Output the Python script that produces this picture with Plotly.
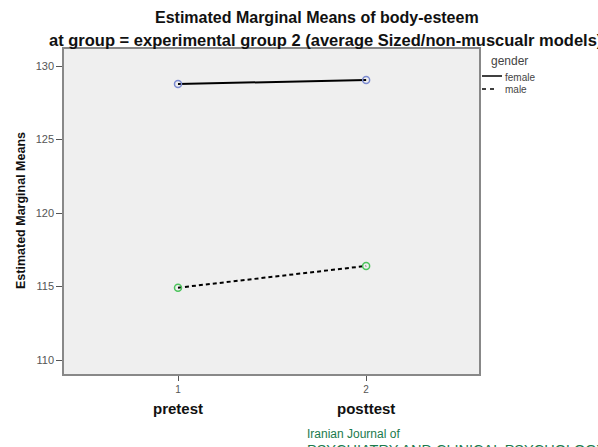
import plotly.graph_objects as go

time_points = [1, 2]
time_labels = ["pretest", "posttest"]
female_means = [128.78, 129.05]
male_means = [114.92, 116.4]
y_ticks = [110, 115, 120, 125, 130]

FONT = "Liberation Sans, Arial, sans-serif"

fig = go.Figure()
fig.add_trace(go.Scatter(
    x=time_points, y=female_means, mode="lines+markers", name="female",
    line=dict(color="black", width=2, dash="solid"),
    marker=dict(symbol="circle-open", size=7, color="#7b8ad0", line=dict(width=1.5)),
    showlegend=False))
fig.add_trace(go.Scatter(
    x=time_points, y=male_means, mode="lines+markers", name="male",
    line=dict(color="black", width=2, dash="4px,3px"),
    marker=dict(symbol="circle-open", size=7, color="#4cc45c", line=dict(width=1.5)),
    showlegend=False))

fig.update_layout(
    width=598, height=447,
    margin=dict(l=64, r=119, t=49, b=73),
    paper_bgcolor="white", plot_bgcolor="#efefef",
    font=dict(family=FONT, color="#333"),
    xaxis=dict(range=[0.394, 2.6], tickvals=time_points, ticktext=["1", "2"],
               ticks="outside", ticklen=5, tickcolor="#555",
               tickfont=dict(size=10, color="#555"),
               showgrid=False, zeroline=False, showline=True, linecolor="#888",
               linewidth=1.5, mirror=True),
    yaxis=dict(range=[109.05, 131.16], tickvals=y_ticks,
               ticks="outside", ticklen=6, tickcolor="#555",
               tickfont=dict(size=11, color="#555"),
               showgrid=False, zeroline=False, showline=True, linecolor="#888",
               linewidth=1.5, mirror=True),
    showlegend=False,
)

W, H = 598, 447
L, R, T, B = 64, 119, 49, 73
pw, ph = W - L - R, H - T - B
def px(x):
    return (x - L) / pw
def py(y):
    return (H - B - y) / ph

ann = [
    dict(text="<b>Estimated Marginal Means of body-esteem</b>", x=px(317), y=py(17),
         xref="paper", yref="paper", showarrow=False, xanchor="center", yanchor="middle",
         font=dict(size=16, color="#111", family=FONT)),
    dict(text="<b>at group = experimental group 2 (average Sized/non-muscualr models)</b>",
         x=px(47), y=py(40), xref="paper", yref="paper", showarrow=False,
         xanchor="left", yanchor="middle", font=dict(size=16.5, color="#111", family=FONT)),
    dict(text="<b>Estimated Marginal Means</b>", x=px(21), y=py(211), textangle=-90,
         xref="paper", yref="paper", showarrow=False, xanchor="center", yanchor="middle",
         font=dict(size=12.5, color="#111", family=FONT)),
    dict(text="gender", x=px(489), y=py(61), xref="paper", yref="paper", showarrow=False,
         xanchor="left", yanchor="middle", font=dict(size=12, color="#444", family=FONT)),
    dict(text="female", x=px(503), y=py(77), xref="paper", yref="paper", showarrow=False,
         xanchor="left", yanchor="middle", font=dict(size=10, color="#444", family=FONT)),
    dict(text="male", x=px(503), y=py(89), xref="paper", yref="paper", showarrow=False,
         xanchor="left", yanchor="middle", font=dict(size=10, color="#444", family=FONT)),
    dict(text="Iranian Journal of", x=px(305), y=py(434), xref="paper", yref="paper",
         showarrow=False, xanchor="left", yanchor="middle",
         font=dict(size=12, color="#1b7a4c", family=FONT)),
    dict(text="PSYCHIATRY AND CLINICAL PSYCHOLOGY", x=px(305), y=py(450), xref="paper", yref="paper",
         showarrow=False, xanchor="left", yanchor="middle",
         font=dict(size=14.5, color="#1b7a4c", family=FONT)),
]
for xv, lab in zip(time_points, time_labels):
    ann.append(dict(text=f"<b>{lab}</b>", x=xv, y=py(408), xref="x", yref="paper",
                    showarrow=False, xanchor="center", yanchor="middle",
                    font=dict(size=15, color="#111", family=FONT)))

shapes = [
    dict(type="line", xref="paper", yref="paper", x0=px(482), x1=px(502), y0=py(76), y1=py(76),
         line=dict(color="black", width=1.5)),
    dict(type="line", xref="paper", yref="paper", x0=px(482), x1=px(498), y0=py(89), y1=py(89),
         line=dict(color="black", width=1.5, dash="4px,4px")),
]
fig.update_layout(annotations=ann, shapes=shapes)
fig.write_html("out.html")
